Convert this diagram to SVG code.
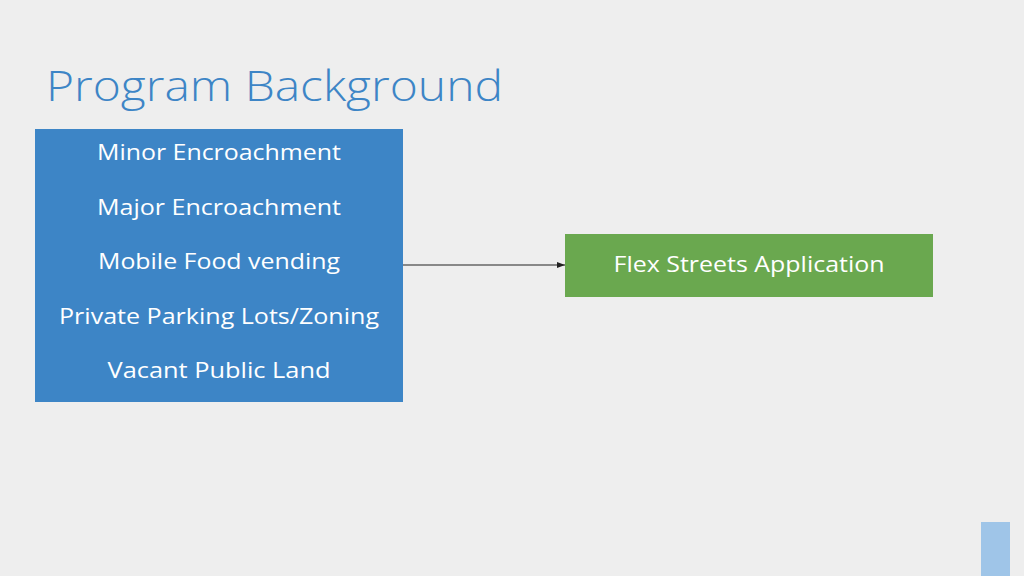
<svg xmlns="http://www.w3.org/2000/svg" width="1024" height="576" viewBox="0 0 1024 576">
<style>
.lbl{font-family:"Open Sans","Liberation Sans",sans-serif;font-size:22px;fill:#ffffff;text-anchor:middle;dominant-baseline:central}
.title{font-family:"Open Sans","Liberation Sans",sans-serif;font-size:43px;fill:#3d85c6;font-weight:300}
</style>
<defs>
<marker id="arr" markerWidth="8" markerHeight="6" refX="8" refY="3" orient="auto" markerUnits="userSpaceOnUse">
<path d="M0,0 L8,3 L0,6 z" fill="#222"/>
</marker>
</defs>
<rect width="1024" height="576" fill="#eeeeee"/>
<text class="title" x="46" y="101" textLength="457" lengthAdjust="spacingAndGlyphs">Program Background</text>
<g id="connectors">
<line x1="403" y1="265" x2="565" y2="265" stroke="#222" stroke-width="1" marker-end="url(#arr)"/>
</g>
<g id="node-programs">
<rect x="35" y="129" width="368" height="273" fill="#3d85c6"/>
<text class="lbl" x="219" y="151" textLength="244" lengthAdjust="spacingAndGlyphs">Minor Encroachment</text>
<text class="lbl" x="219" y="206" textLength="244" lengthAdjust="spacingAndGlyphs">Major Encroachment</text>
<text class="lbl" x="219" y="260" textLength="242" lengthAdjust="spacingAndGlyphs">Mobile Food vending</text>
<text class="lbl" x="219" y="315" textLength="320" lengthAdjust="spacingAndGlyphs">Private Parking Lots/Zoning</text>
<text class="lbl" x="219" y="369" textLength="223" lengthAdjust="spacingAndGlyphs">Vacant Public Land</text>
</g>
<g id="node-flex">
<rect x="565" y="234" width="368" height="63" fill="#6aa84f"/>
<text class="lbl" x="749" y="263" textLength="271" lengthAdjust="spacingAndGlyphs">Flex Streets Application</text>
</g>
<rect x="981" y="522" width="29" height="54" fill="#9fc5e8"/>
</svg>
